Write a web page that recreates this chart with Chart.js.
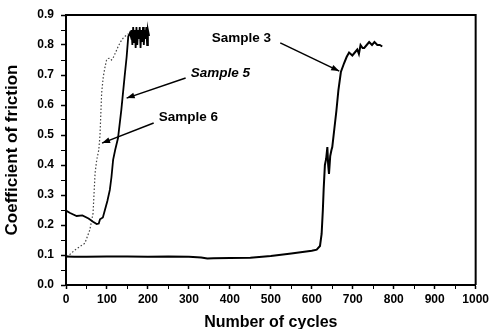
<!DOCTYPE html>
<html>
<head>
<meta charset="utf-8">
<script src="https://cdn.jsdelivr.net/npm/chart.js@4"></script>
<style>
html,body{margin:0;padding:0;background:#fff;}
#wrap{width:492px;height:329px;position:relative;}
</style>
</head>
<body>
<div id="wrap"><canvas id="c"></canvas></div>
<script>
// ---- data ----
const sample3X = [0,20,50,100,150,200,250,300,330,345,360,400,450,500,550,600,612,620,624,627,629,632,635,638,640,642,645,648,650,655,660,665,671,679,685,691,699,705,711,715,719,724,728,734,740,747,753,760,766,772];
const sample3Y = [0.095,0.094,0.094,0.095,0.095,0.094,0.095,0.094,0.092,0.088,0.089,0.090,0.091,0.097,0.105,0.114,0.118,0.13,0.17,0.25,0.32,0.40,0.42,0.46,0.40,0.37,0.43,0.45,0.46,0.52,0.58,0.65,0.71,0.74,0.76,0.775,0.765,0.775,0.785,0.77,0.80,0.79,0.79,0.80,0.81,0.80,0.81,0.80,0.80,0.795];

const sample5X = [0,10,26,40,55,66,75,80,83,90,95,101,107,111,115,120,127,135,143,148,152,156,158,160,162,164,166,168,170,172,174,176,178,180,182,184,186,188,190,192,194,196,198,200,203];
const sample5Y = [0.248,0.24,0.23,0.232,0.222,0.211,0.203,0.205,0.219,0.225,0.25,0.28,0.317,0.36,0.417,0.45,0.49,0.583,0.694,0.76,0.828,0.84,0.83,0.85,0.80,0.86,0.81,0.85,0.79,0.86,0.80,0.85,0.82,0.86,0.79,0.85,0.81,0.86,0.80,0.85,0.82,0.86,0.80,0.85,0.83];

const sample6X = [2,12,22,34,46,58,66,71,75,80,83,85,87,91,95,99,103,107,111,115,121,127,133,139,145,152];
const sample6Y = [0.094,0.105,0.117,0.128,0.139,0.183,0.239,0.373,0.417,0.45,0.50,0.57,0.64,0.694,0.725,0.75,0.755,0.756,0.75,0.757,0.775,0.794,0.81,0.822,0.83,0.837];

const xTickLabels = ['0','100','200','300','400','500','600','700','800','900','1000'];
const yTickLabels = ['0.0','0.1','0.2','0.3','0.4','0.5','0.6','0.7','0.8','0.9'];

// annotation labels in data coordinates: [text, x, y, arrowFromX, arrowFromY, arrowToX, arrowToY, italic]
const noteText = ['Sample 3','Sample 5','Sample 6'];
const noteX    = [428, 377, 299];
const noteY    = [0.823, 0.707, 0.56];
const arrowFromX = [523, 292, 214];
const arrowFromY = [0.807, 0.69, 0.54];
const arrowToX   = [667, 148, 88];
const arrowToY   = [0.713, 0.623, 0.473];
const noteItalic = [false, true, false];

const zip = (xs, ys) => xs.map((x, i) => ({x, y: ys[i]}));

const FONT = "'Liberation Sans', Arial, sans-serif";

const framePlugin = {
  id: 'frame',
  afterDatasetsDraw(chart) {
    const {ctx, chartArea: a, scales} = chart;
    ctx.save();
    ctx.strokeStyle = '#000';
    ctx.lineWidth = 2;
    ctx.beginPath();
    ctx.moveTo(a.left, a.top);
    ctx.lineTo(a.right, a.top);
    ctx.lineTo(a.right, a.bottom);
    ctx.stroke();
    // annotations
    ctx.fillStyle = '#000';
    ctx.textAlign = 'center';
    ctx.textBaseline = 'middle';
    for (let i = 0; i < noteText.length; i++) {
      ctx.font = (noteItalic[i] ? 'italic ' : '') + 'bold 13.5px ' + FONT;
      ctx.fillText(noteText[i], scales.x.getPixelForValue(noteX[i]), scales.y.getPixelForValue(noteY[i]));
      const x1 = scales.x.getPixelForValue(arrowFromX[i]);
      const y1 = scales.y.getPixelForValue(arrowFromY[i]);
      const x2 = scales.x.getPixelForValue(arrowToX[i]);
      const y2 = scales.y.getPixelForValue(arrowToY[i]);
      ctx.lineWidth = 1.5;
      ctx.beginPath();
      ctx.moveTo(x1, y1);
      ctx.lineTo(x2, y2);
      ctx.stroke();
      const ang = Math.atan2(y2 - y1, x2 - x1);
      const L = 8, W = 3;
      ctx.beginPath();
      ctx.moveTo(x2, y2);
      ctx.lineTo(x2 - L*Math.cos(ang) + W*Math.sin(ang), y2 - L*Math.sin(ang) - W*Math.cos(ang));
      ctx.lineTo(x2 - L*Math.cos(ang) - W*Math.sin(ang), y2 - L*Math.sin(ang) + W*Math.cos(ang));
      ctx.closePath();
      ctx.fill();
    }
    ctx.restore();
  }
};

new Chart(document.getElementById('c'), {
  type: 'line',
  data: {
    datasets: [
      {label: 'Sample 3', data: zip(sample3X, sample3Y), borderColor: '#000', borderWidth: 2, pointRadius: 0, tension: 0},
      {label: 'Sample 5', data: zip(sample5X, sample5Y), borderColor: '#000', borderWidth: 1.8, pointRadius: 0, tension: 0},
      {label: 'Sample 6', data: zip(sample6X, sample6Y), borderColor: '#444', borderWidth: 1.2, borderDash: [1.5, 2], pointRadius: 0, tension: 0}
    ]
  },
  plugins: [framePlugin],
  options: {
    responsive: true,
    maintainAspectRatio: false,
    animation: false,
    events: [],
    layout: {padding: {top: 15, right: 15, left: 0, bottom: 0}},
    plugins: {legend: {display: false}, tooltip: {enabled: false}},
    scales: {
      x: {
        type: 'linear', min: 0, max: 1000,
        afterFit(s) { s.height = 44; },
        border: {display: true, color: '#000', width: 2},
        grid: {drawOnChartArea: false, drawTicks: true, tickLength: 4, color: '#000',
               tickWidth: (c) => (c.tick && c.tick.value % 100 === 0) ? 1.5 : 1},
        ticks: {
          stepSize: 50, autoSkip: false, maxRotation: 0, padding: 3, color: '#000',
          font: {family: FONT, size: 12, weight: 'bold'},
          callback: (v) => (v % 100 === 0) ? xTickLabels[v / 100] : ''
        },
        title: {display: true, text: 'Number of cycles', color: '#000',
                font: {family: FONT, size: 16, weight: 'bold', lineHeight: 0.8}, padding: 0}
      },
      y: {
        type: 'linear', min: 0, max: 0.9,
        afterFit(s) { s.width = 66; },
        border: {display: true, color: '#000', width: 2},
        grid: {drawOnChartArea: false, drawTicks: true, tickLength: 5, color: '#000',
               tickWidth: (c) => (c.tick && Math.abs(c.tick.value*10 - Math.round(c.tick.value*10)) < 1e-6) ? 1.5 : 1},
        ticks: {
          stepSize: 0.05, autoSkip: false, padding: 7, color: '#000',
          font: {family: FONT, size: 12, weight: 'bold'},
          callback: (v) => {
            const k = Math.round(v * 10);
            return Math.abs(v * 10 - k) < 1e-6 ? yTickLabels[k] : '';
          }
        },
        title: {display: true, text: 'Coefficient of friction', color: '#000',
                font: {family: FONT, size: 17, weight: 'bold'}, padding: {top: 2, bottom: 0}}
      }
    }
  }
});
</script>
</body>
</html>
